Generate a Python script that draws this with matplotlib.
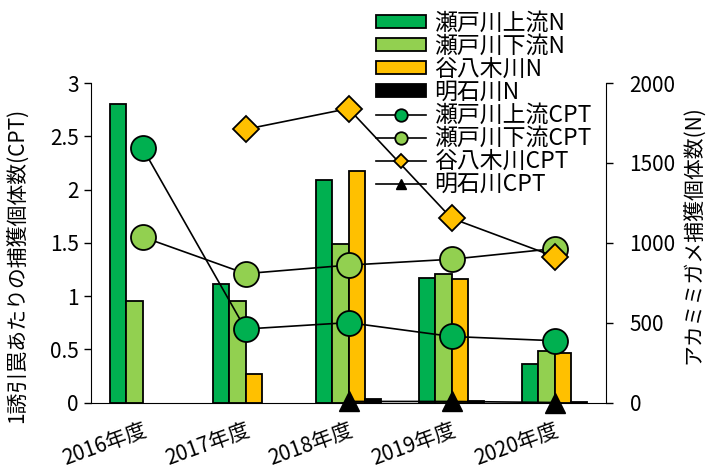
import numpy as np
import matplotlib
matplotlib.use("Agg")
import matplotlib.pyplot as plt

plt.rcParams['font.family'] = ['Noto Sans CJK JP', 'DejaVu Sans']
plt.rcParams['font.size'] = 15

# data
years = ['2016年度', '2017年度', '2018年度', '2019年度', '2020年度']

# catch counts (right axis, N)
n_seto_up = [1870, 740, 1395, 780, 240]
n_seto_down = [635, 635, 990, 805, 320]
n_yagi = [np.nan, 180, 1450, 770, 310]
n_akashi = [np.nan, np.nan, 20, 10, 3]

# catch per trap (left axis, CPT)
cpt_seto_up = [2.39, 0.69, 0.75, 0.62, 0.58]
cpt_seto_down = [1.555, 1.21, 1.29, 1.345, 1.445]
cpt_yagi = [np.nan, 2.565, 2.76, 1.73, 1.37]
cpt_akashi = [np.nan, np.nan, 0.01, 0.01, 0.0]

c_dark = '#00B050'
c_light = '#92D050'
c_orange = '#FFC000'
c_black = '#000000'

fig = plt.figure(figsize=(7.08, 4.70), dpi=100)
ax = fig.add_axes([91/708, 1-402.5/470, (606-91)/708, (402.5-83)/470])
ax2 = ax.twinx()

x = np.arange(len(years))
w = 0.16
bars = []
for i, (vals, col, lab) in enumerate([(n_seto_up, c_dark, '瀬戸川上流N'),
                                      (n_seto_down, c_light, '瀬戸川下流N'),
                                      (n_yagi, c_orange, '谷八木川N'),
                                      (n_akashi, c_black, '明石川N')]):
    b = ax2.bar(x + (i - 1.5) * w, vals, w, color=col, edgecolor='black',
                linewidth=1.3, label=lab)
    bars.append(b)

l1, = ax.plot(x, cpt_seto_up, '-o', color='black', lw=1.2, ms=18,
              mfc=c_dark, mec='black', mew=1.3, label='瀬戸川上流CPT', clip_on=False)
l2, = ax.plot(x, cpt_seto_down, '-o', color='black', lw=1.2, ms=18,
              mfc=c_light, mec='black', mew=1.3, label='瀬戸川下流CPT', clip_on=False)
l3, = ax.plot(x, cpt_yagi, '-D', color='black', lw=1.2, ms=13.5,
              mfc=c_orange, mec='black', mew=1.3, label='谷八木川CPT', clip_on=False)
l4, = ax.plot(x, cpt_akashi, '-^', color='black', lw=1.2, ms=15,
              mfc='black', mec='black', mew=1, label='明石川CPT', clip_on=False)

ax.set_zorder(ax2.get_zorder() + 1)
ax.patch.set_visible(False)

ax.set_xlim(-0.5, 4.5)
ax.set_ylim(0, 3)
ax.set_yticks([0, 0.5, 1, 1.5, 2, 2.5, 3])
ax.set_yticklabels(['0', '0.5', '1', '1.5', '2', '2.5', '3'])
ax2.set_ylim(0, 2000)
ax2.set_yticks([0, 500, 1000, 1500, 2000])

ax.set_xticks(x)
ax.set_xticklabels(years, rotation=20, ha='right', rotation_mode='anchor')
ax.tick_params(axis='x', length=0, pad=12)
ax.tick_params(axis='y', length=5, width=1, pad=4)
ax2.tick_params(axis='y', length=5, width=1, pad=12)

for a in (ax, ax2):
    a.spines['top'].set_visible(False)
ax.spines['right'].set_visible(False)
ax2.spines['left'].set_visible(False)
ax2.spines['bottom'].set_visible(False)

ax.set_ylabel('1誘引罠あたりの捕獲個体数(CPT)')
ax.yaxis.set_label_coords((28-91)/515, (402.5-265)/319.5)
ax2.set_ylabel('アカミミガメ捕獲個体数(N)', rotation=90)
ax2.yaxis.set_label_coords((682-91)/515, (402.5-235)/319.5)

handles = bars + [l1, l2, l3, l4]
labels = [h.get_label() for h in handles]
fig.legend(handles, labels, loc='upper left', bbox_to_anchor=(376/708, 1-12/470),
           frameon=False, borderpad=0, borderaxespad=0, markerscale=0.5,
           handlelength=2.2, handleheight=0.5, handletextpad=0.35,
           labelspacing=0.0, fontsize=16.5)

fig.savefig('out.png', dpi=100)
